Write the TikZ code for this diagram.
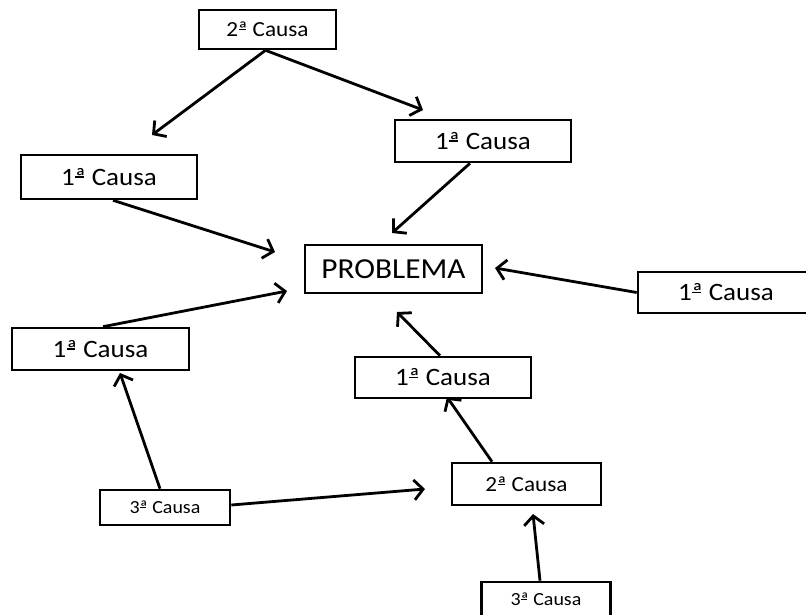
\documentclass[tikz,border=0pt]{standalone}
\usepackage{fontspec}
\setmainfont{Carlito}[FakeStretch=1.08]
\usetikzlibrary{arrows.meta}
% feminine ordinal with the bar beneath it
\newcommand\ordbar{\leavevmode\rlap{\kern0.02em\raisebox{0.31em}{\rule{0.33em}{0.05em}}}ª}
\begin{document}
\begin{tikzpicture}[x=1pt,y=-1pt,
  box/.style={draw, line width=2.6pt, inner sep=0pt, anchor=center},
  big/.style={font=\fontsize{25}{27}\selectfont},
  mid/.style={font=\fontsize{21.5}{23}\selectfont},
  small/.style={font=\fontsize{18.5}{20}\selectfont},
  link/.style={line width=2.8pt, -{Straight Barb[length=9pt,width=20pt]}}]
\useasboundingbox (0,0) rectangle (806,615);
\begin{scope}
\clip (0,0) rectangle (806,615);
% boxes
\node[box,mid,minimum width=137pt,minimum height=39pt] (c2top) at (267.5,29.5) {2\ordbar{} Causa};
\node[box,big,minimum width=176pt,minimum height=44pt] (c1left) at (109,177) {1\ordbar{} Causa};
\node[box,big,minimum width=176pt,minimum height=42pt] (c1up) at (483,141) {1\ordbar{} Causa};
\node[box,font=\fontsize{29}{31}\selectfont,minimum width=177pt,minimum height=48pt] (prob) at (393.5,269) {PROBLEMA};
\node[box,big,minimum width=176pt,minimum height=41pt] (c1right) at (726,292.5) {1\ordbar{} Causa};
\node[box,big,minimum width=177pt,minimum height=42pt] (c1low) at (100.5,349) {1\ordbar{} Causa};
\node[box,big,minimum width=176pt,minimum height=41pt] (c1mid) at (443,377.5) {1\ordbar{} Causa};
\node[box,mid,minimum width=149pt,minimum height=42pt] (c2low) at (526.5,484) {2\ordbar{} Causa};
\node[box,small,minimum width=130pt,minimum height=35pt] (c3left) at (165,507.5) {3\ordbar{} Causa};
\node[box,small,minimum width=129pt,minimum height=35pt] (c3bot) at (546,599.5) {3\ordbar{} Causa};
\end{scope}
% arrow tips
\coordinate (t1) at (152,135);
\coordinate (t2) at (423,110);
\coordinate (t3) at (392,233);
\coordinate (t4) at (275,252);
\coordinate (t5) at (495,268);
\coordinate (t6) at (287,291);
\coordinate (t7) at (397,312);
\coordinate (t8) at (447,397);
\coordinate (t9) at (120,373);
\coordinate (t10) at (425,489);
\coordinate (t11) at (533,514);
% connectors
\draw[link] ([xshift=-2pt]c2top.south) -- (t1);
\draw[link] ([xshift=-2pt]c2top.south) -- (t2);
\draw[link] ([xshift=-13pt]c1up.south) -- (t3);
\draw[link] ([xshift=4pt]c1left.south) -- (t4);
\draw[link] (c1right.west) -- (t5);
\draw[link] ([xshift=2.5pt]c1low.north) -- (t6);
\draw[link] ([xshift=-3pt]c1mid.north) -- (t7);
\draw[link] ([xshift=-34.5pt]c2low.north) -- (t8);
\draw[link] ([xshift=-5pt]c3left.north) -- (t9);
\draw[link] ([yshift=2.5pt]c3left.east) -- (t10);
\draw[link] ([xshift=-6pt]c3bot.north) -- (t11);
\end{tikzpicture}
\end{document}
